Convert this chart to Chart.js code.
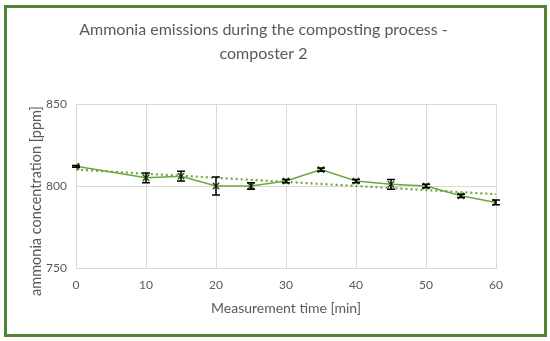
<!DOCTYPE html>
<html>
<head>
<meta charset="utf-8">
<script src="https://cdn.jsdelivr.net/npm/chart.js@4"></script>
<style>
html,body{margin:0;padding:0;background:#fff;}
#wrap{position:relative;width:550px;height:341px;}
#frame{position:absolute;left:4px;top:5px;width:537px;height:326px;border:3px solid #548235;pointer-events:none;}
canvas{position:absolute;left:0;top:0;}
</style>
</head>
<body>
<div id="wrap">
<canvas id="c" width="550" height="341"></canvas>
<div id="frame"></div>
</div>
<script>
const times = [0, 10, 15, 20, 25, 30, 35, 40, 45, 50, 55, 60];
const ammonia = [812, 805, 806, 800, 800, 803, 810, 803, 801, 800, 794, 790];
const errors = [0.5, 3, 3, 5.5, 2, 1, 1, 1, 3, 1, 1, 1.5];
const trendTimes = [0, 60];
const trendValues = [810, 795];
const xTicks = [0, 10, 20, 30, 40, 50, 60];
const yTicks = [750, 800, 850];
const yTitle = 'ammonia concentration [ppm]';

const textColor = '#595959';
const fontFamily = 'Lato, "Open Sans", sans-serif';

const errorBars = {
  id: 'errorBars',
  afterDatasetsDraw(chart) {
    const ctx = chart.ctx;
    const xs = chart.scales.x, ys = chart.scales.y;
    ctx.save();
    ctx.strokeStyle = '#000';
    ctx.lineWidth = 1.5;
    times.forEach((t, i) => {
      const px = xs.getPixelForValue(t);
      const top = ys.getPixelForValue(ammonia[i] + errors[i]);
      const bot = ys.getPixelForValue(ammonia[i] - errors[i]);
      ctx.beginPath();
      ctx.moveTo(px, top); ctx.lineTo(px, bot);
      ctx.moveTo(px - 4, top); ctx.lineTo(px + 4, top);
      ctx.moveTo(px - 4, bot); ctx.lineTo(px + 4, bot);
      ctx.stroke();
    });
    ctx.restore();
  }
};

const yAxisTitle = {
  id: 'yAxisTitle',
  afterDraw(chart) {
    const ctx = chart.ctx;
    const a = chart.chartArea;
    ctx.save();
    ctx.translate(36, (a.top + a.bottom) / 2 + 15);
    ctx.rotate(-Math.PI / 2);
    ctx.fillStyle = textColor;
    ctx.font = '14.5px ' + fontFamily;
    ctx.textAlign = 'center';
    ctx.textBaseline = 'middle';
    ctx.fillText(yTitle, 0, 0);
    ctx.restore();
  }
};

new Chart(document.getElementById('c'), {
  type: 'scatter',
  data: {
    datasets: [
      {
        label: 'composter 2',
        data: times.map((t, i) => ({x: t, y: ammonia[i]})),
        showLine: true,
        borderColor: '#6aa83f',
        borderWidth: 1.5,
        pointStyle: 'crossRot',
        pointRadius: 4.5,
        pointBorderColor: '#2f4f1f',
        pointBorderWidth: 1.5,
        order: 1
      },
      {
        label: 'trend',
        data: trendTimes.map((t, i) => ({x: t, y: trendValues[i]})),
        showLine: true,
        borderColor: '#6aa83f',
        borderWidth: 2.2,
        borderDash: [2, 3],
        pointRadius: 0,
        order: 2
      }
    ]
  },
  options: {
    responsive: false,
    animation: false,
    layout: {padding: {left: 31, right: 54, top: 0, bottom: 22}},
    plugins: {
      legend: {display: false},
      tooltip: {enabled: false},
      title: {
        display: true,
        text: ['Ammonia emissions during the composting process -', 'composter 2'],
        color: textColor,
        font: {family: fontFamily, size: 16, weight: 'normal', lineHeight: 1.5},
        padding: {top: 18, bottom: 38}
      }
    },
    scales: {
      x: {
        type: 'linear',
        min: 0, max: 60,
        afterBuildTicks(scale) { scale.ticks = xTicks.map(v => ({value: v})); },
        afterFit(scale) { scale.height = 51; },
        grid: {color: '#d9d9d9', drawTicks: false},
        border: {color: '#d9d9d9'},
        ticks: {color: textColor, font: {family: fontFamily, size: 12}, padding: 10},
        title: {display: true, text: 'Measurement time [min]', color: textColor,
                font: {family: fontFamily, size: 14}, padding: {top: 0, bottom: 2}}
      },
      y: {
        min: 750, max: 850,
        afterBuildTicks(scale) { scale.ticks = yTicks.map(v => ({value: v})); },
        afterFit(scale) { scale.width = 45; },
        grid: {color: '#d9d9d9', drawTicks: false},
        border: {display: false},
        ticks: {color: textColor, font: {family: fontFamily, size: 12}, padding: 9}
      }
    }
  },
  plugins: [errorBars, yAxisTitle]
});
</script>
</body>
</html>
